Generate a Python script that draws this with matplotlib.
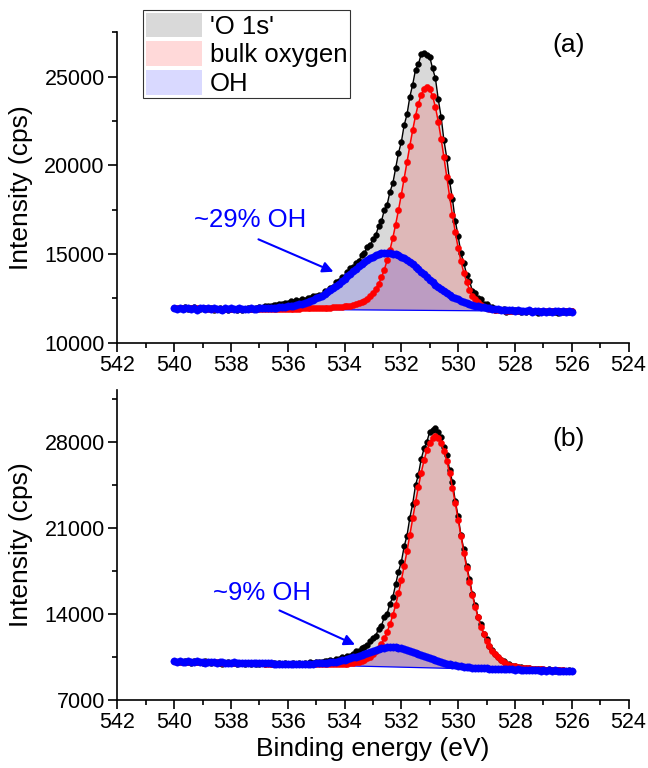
import numpy as np
import matplotlib
matplotlib.use('Agg')
import matplotlib.pyplot as plt
from matplotlib.patches import Patch

plt.rcParams['font.family'] = ['Liberation Sans', 'DejaVu Sans']

# binding-energy grid of the scans (540.0 -> 526.0 eV, 0.1 eV steps)
energy = np.round(np.arange(540.0, 525.95, -0.1), 1)

# ---------------- panel (a) ----------------
o1s_a = [11963, 11912, 11981, 11929, 11988, 11898, 11947, 11996, 11914, 11883,
         11963, 11872, 11932, 11970, 11860, 11899, 11949, 11849, 11878, 11838,
         11875, 11915, 11837, 11896, 11868, 11909, 11952, 11894, 11927, 11980,
         12015, 11980, 12046, 12093, 12072, 12144, 12148, 12202, 12160, 12260,
         12244, 12341, 12311, 12386, 12364, 12451, 12431, 12528, 12518, 12626,
         12644, 12695, 12716, 12904, 12880, 13089, 13147, 13407, 13451, 13677,
         13727, 13986, 14216, 14255, 14494, 14591, 14924, 15065, 15401, 15500,
         15836, 16059, 16578, 16845, 17482, 17777, 18520, 18983, 19855, 20703,
         21317, 22274, 22874, 23879, 24557, 25402, 25715, 26269, 26358, 26208,
         26121, 25471, 24913, 23733, 22743, 21418, 20426, 19104, 18108, 16867,
         16016, 15042, 14504, 13827, 13480, 12941, 12818, 12512, 12436, 12187,
         12167, 11992, 12013, 11868, 11900, 11844, 11905, 11758, 11804, 11762,
         11833, 11785, 11719, 11791, 11736, 11831, 11737, 11783, 11700, 11746,
         11793, 11711, 11749, 11796, 11724, 11692, 11771, 11739, 11807, 11745,
         11774]
bulk_a = [11941, 11940, 11939, 11937, 11936, 11935, 11934, 11933, 11931, 11930,
          11929, 11928, 11927, 11925, 11924, 11923, 11922, 11921, 11919, 11918,
          11924, 11923, 11923, 11921, 11921, 11920, 11920, 11919, 11918, 11918,
          11918, 11918, 11918, 11918, 11918, 11918, 11919, 11919, 11919, 11919,
          11920, 11921, 11923, 11923, 11925, 11929, 11931, 11934, 11936, 11939,
          11944, 11948, 11954, 11959, 11964, 11975, 11987, 11999, 12009, 12027,
          12045, 12069, 12094, 12129, 12166, 12216, 12278, 12365, 12477, 12614,
          12790, 13028, 13317, 13681, 14121, 14637, 15229, 15909, 16664, 17482,
          18351, 19258, 20190, 21109, 21991, 22797, 23477, 23993, 24306, 24431,
          24299, 23911, 23291, 22475, 21513, 20454, 19350, 18249, 17196, 16220,
          15346, 14585, 13942, 13413, 12990, 12659, 12469, 12279, 12138, 12037,
          11973, 11921, 11882, 11855, 11841, 11828, 11821, 11813, 11806, 11800,
          11796, 11793, 11790, 11786, 11784, 11782, 11780, 11778, 11776, 11774,
          11772, 11771, 11770, 11768, 11767, 11766, 11765, 11764, 11762, 11761,
          11760]
oh_a = [11970, 11909, 11958, 11886, 11935, 11975, 11894, 11943, 11871, 11930,
        11950, 11879, 11939, 11907, 11957, 11886, 11926, 11866, 11935, 11895,
        11945, 11875, 11906, 11935, 11886, 11927, 11899, 11951, 11913, 11925,
        11929, 11933, 11938, 11943, 11951, 11962, 11974, 11987, 12003, 12022,
        12044, 12069, 12096, 12129, 12164, 12206, 12253, 12306, 12362, 12426,
        12498, 12574, 12658, 12749, 12849, 12956, 13061, 13188, 13320, 13457,
        13598, 13742, 13886, 14028, 14169, 14305, 14435, 14558, 14670, 14771,
        14860, 14934, 14993, 15034, 15060, 15068, 15058, 15030, 14985, 14924,
        14848, 14757, 14654, 14538, 14413, 14281, 14143, 14000, 13854, 13708,
        13562, 13419, 13280, 13144, 13015, 12908, 12799, 12697, 12602, 12516,
        12438, 12364, 12298, 12238, 12183, 12134, 12090, 12053, 12016, 11987,
        11960, 11936, 11915, 11895, 11880, 11866, 11853, 11843, 11834, 11827,
        11791, 11835, 11771, 11815, 11781, 11827, 11744, 11791, 11808, 11755,
        11793, 11741, 11799, 11756, 11804, 11762, 11731, 11789, 11737, 11775,
        11744]
background_a = [11928, 11760]   # at 540 eV and 526 eV

# ---------------- panel (b) ----------------
o1s_b = [10152, 10077, 10122, 10047, 10152, 10076, 10023, 10107, 10031, 10078,
         9992, 10107, 10032, 9968, 10062, 9988, 10023, 9939, 9994, 10049,
         9955, 10011, 9926, 9962, 9978, 9893, 9978, 9934, 9989, 9904,
         9941, 9986, 9905, 9943, 9920, 9988, 9906, 9944, 9873, 9972,
         9921, 9892, 9961, 9914, 9996, 9941, 9996, 9922, 10032, 9992,
         10067, 10094, 10034, 10169, 10139, 10254, 10175, 10311, 10324, 10464,
         10411, 10575, 10531, 10747, 10927, 10920, 11177, 11303, 11407, 11780,
         12005, 12213, 12774, 13030, 13700, 14000, 14811, 15339, 16403, 17425,
         18206, 19476, 20356, 21813, 22948, 24442, 25309, 26584, 27446, 27999,
         28804, 28942, 29090, 28748, 28406, 27560, 26927, 25699, 24693, 23151,
         21921, 20377, 19232, 17866, 16836, 15569, 14720, 13756, 13125, 12350,
         11900, 11336, 11067, 10694, 10490, 10194, 10154, 9913, 9863, 9718,
         9754, 9641, 9685, 9536, 9562, 9590, 9479, 9531, 9454, 9527,
         9391, 9446, 9463, 9390, 9328, 9436, 9366, 9385, 9315, 9406,
         9335]
bulk_b = [10110, 10104, 10099, 10094, 10088, 10082, 10078, 10072, 10066, 10062,
          10056, 10050, 10045, 10040, 10034, 10029, 10024, 10019, 10013, 10008,
          10003, 9998, 9992, 9987, 9982, 9976, 9970, 9965, 9959, 9953,
          9948, 9942, 9940, 9936, 9932, 9928, 9924, 9921, 9917, 9913,
          9909, 9906, 9901, 9899, 9896, 9894, 9892, 9889, 9888, 9886,
          9886, 9886, 9886, 9887, 9889, 9893, 9897, 9902, 9908, 9916,
          9925, 9936, 9953, 9985, 10026, 10087, 10138, 10226, 10352, 10498,
          10699, 10938, 11216, 11568, 11996, 12517, 13134, 13864, 14706, 15662,
          16712, 17874, 19088, 20408, 21742, 23060, 24314, 25467, 26477, 27306,
          27923, 28300, 28424, 28289, 27900, 27272, 26431, 25410, 24245, 22980,
          21651, 20305, 18974, 17748, 16575, 15513, 14546, 13693, 12951, 12323,
          11790, 11351, 10987, 10698, 10448, 10235, 10078, 9940, 9841, 9778,
          9706, 9654, 9610, 9582, 9559, 9539, 9519, 9502, 9486, 9470,
          9455, 9441, 9429, 9417, 9406, 9395, 9385, 9375, 9366, 9357,
          9347]
oh_b = [10142, 10087, 10142, 10086, 10051, 10105, 10051, 10085, 10109, 10045,
        10069, 10004, 10068, 10034, 10068, 9993, 10028, 10053, 9988, 10022,
        9988, 10043, 9988, 9954, 10009, 9964, 9989, 9945, 9990, 9965,
        9962, 9957, 9952, 9948, 9944, 9940, 9936, 9932, 9929, 9926,
        9923, 9922, 9920, 9919, 9919, 9920, 9921, 9924, 9930, 9936,
        9945, 9957, 9971, 9989, 10011, 10037, 10068, 10103, 10145, 10191,
        10243, 10300, 10364, 10432, 10505, 10582, 10662, 10744, 10826, 10908,
        10986, 11059, 11127, 11185, 11231, 11264, 11283, 11285, 11271, 11242,
        11197, 11139, 11069, 10991, 10906, 10816, 10724, 10630, 10536, 10444,
        10357, 10272, 10192, 10118, 10049, 9985, 9927, 9875, 9828, 9785,
        9749, 9715, 9685, 9659, 9637, 9616, 9598, 9582, 9567, 9554,
        9541, 9531, 9520, 9510, 9501, 9492, 9483, 9474, 9468, 9460,
        9432, 9476, 9428, 9391, 9444, 9387, 9420, 9443, 9377, 9340,
        9403, 9346, 9380, 9323, 9386, 9340, 9304, 9357, 9310, 9355,
        9308]
background_b = [10100, 9300]    # at 540 eV and 526 eV

bg_energy = [526.0, 540.0]
legend_labels = ["'O 1s'", "bulk oxygen", "OH"]
oh_share = ["~29% OH", "~9% OH"]
panel_tags = ["(a)", "(b)"]

fig = plt.figure(figsize=(6.48, 7.68), dpi=100)
ax_a = fig.add_axes([0.181, 0.5538, 0.789, 0.404])
ax_b = fig.add_axes([0.181, 0.0890, 0.789, 0.4032])


def draw(ax, o1s, bulk, oh, bg):
    x = np.asarray(energy)
    bg_rev = [bg[1], bg[0]]  # polygon closing: 526 -> 540
    for y, c in ((o1s, 'black'), (bulk, 'red'), (oh, 'blue')):
        ax.fill(np.concatenate([x, bg_energy]), np.concatenate([y, bg_rev]),
                color=c, alpha=0.15, lw=0, zorder=1)
    ax.plot([540.0, 526.0], bg, color='blue', lw=0.9, zorder=2)
    ax.plot(x, o1s, color='black', lw=1.0, marker='o', ms=4.2, mec='black',
            mfc='black', mew=0.3, zorder=3)
    ax.plot(x, bulk, color='red', lw=1.1, marker='o', ms=4.5, mec='red',
            mfc='red', mew=0.3, zorder=4)
    ax.plot(x, oh, color='blue', lw=2.8, marker='o', ms=5.3, mec='blue',
            mfc='blue', mew=0.3, zorder=5)


def style(ax, ylim, major, minor):
    ax.set_xlim(542, 524)
    ax.set_ylim(*ylim)
    ax.set_xticks(np.arange(542, 523, -2))
    ax.set_xticks(np.arange(541, 524, -2), minor=True)
    ax.set_yticks(major)
    ax.set_yticks(minor, minor=True)
    for s in ('top', 'right'):
        ax.spines[s].set_visible(False)
    for s in ('left', 'bottom'):
        ax.spines[s].set_linewidth(1.2)
    ax.tick_params(which='major', direction='out', length=6.5, width=1.2,
                   labelsize=15.5, pad=2.5)
    ax.tick_params(which='minor', direction='out', length=3.5, width=1.2)
    ax.set_ylabel('Intensity (cps)', fontsize=19)
    ax.yaxis.set_label_coords(-0.165, 0.5)


draw(ax_a, o1s_a, bulk_a, oh_a, background_a)
draw(ax_b, o1s_b, bulk_b, oh_b, background_b)
style(ax_a, (10000, 27500), [10000, 15000, 20000, 25000],
      [12500, 17500, 22500, 27500])
style(ax_b, (7000, 32200), [7000, 14000, 21000, 28000],
      [10500, 17500, 24500, 31500])
ax_b.set_xlabel('Binding energy (eV)', fontsize=19, labelpad=3)

ax_a.text(0.882, 0.959, panel_tags[0], transform=ax_a.transAxes, fontsize=19,
          ha='center', va='center')
ax_b.text(0.882, 0.842, panel_tags[1], transform=ax_b.transAxes, fontsize=19,
          ha='center', va='center')

arrow = dict(arrowstyle='-|>', color='blue', lw=1.5, mutation_scale=16,
             shrinkA=0, shrinkB=0)
ax_a.text(537.33, 16917, oh_share[0], color='blue', fontsize=18.5,
          ha='center', va='center')
ax_a.annotate('', xy=(534.39, 14002), xytext=(537.03, 15829), arrowprops=arrow)
ax_b.text(536.9, 15700, oh_share[1], color='blue', fontsize=18.5,
          ha='center', va='center')
ax_b.annotate('', xy=(533.63, 11470), xytext=(536.29, 14260), arrowprops=arrow)

handles = [Patch(facecolor='black', alpha=0.15, lw=0),
           Patch(facecolor='red', alpha=0.15, lw=0),
           Patch(facecolor='blue', alpha=0.15, lw=0)]
leg = fig.legend(handles, legend_labels, loc='upper left',
                 bbox_to_anchor=(143 / 648, 1 - 10 / 768),
                 bbox_transform=fig.transFigure, fontsize=18.5,
                 frameon=True, fancybox=False, edgecolor='black',
                 handlelength=2.2, handleheight=1.1, labelspacing=0.1,
                 borderpad=0.1, handletextpad=0.3, borderaxespad=0)
leg.get_frame().set_linewidth(0.8)

fig.savefig('out.png', dpi=100)
